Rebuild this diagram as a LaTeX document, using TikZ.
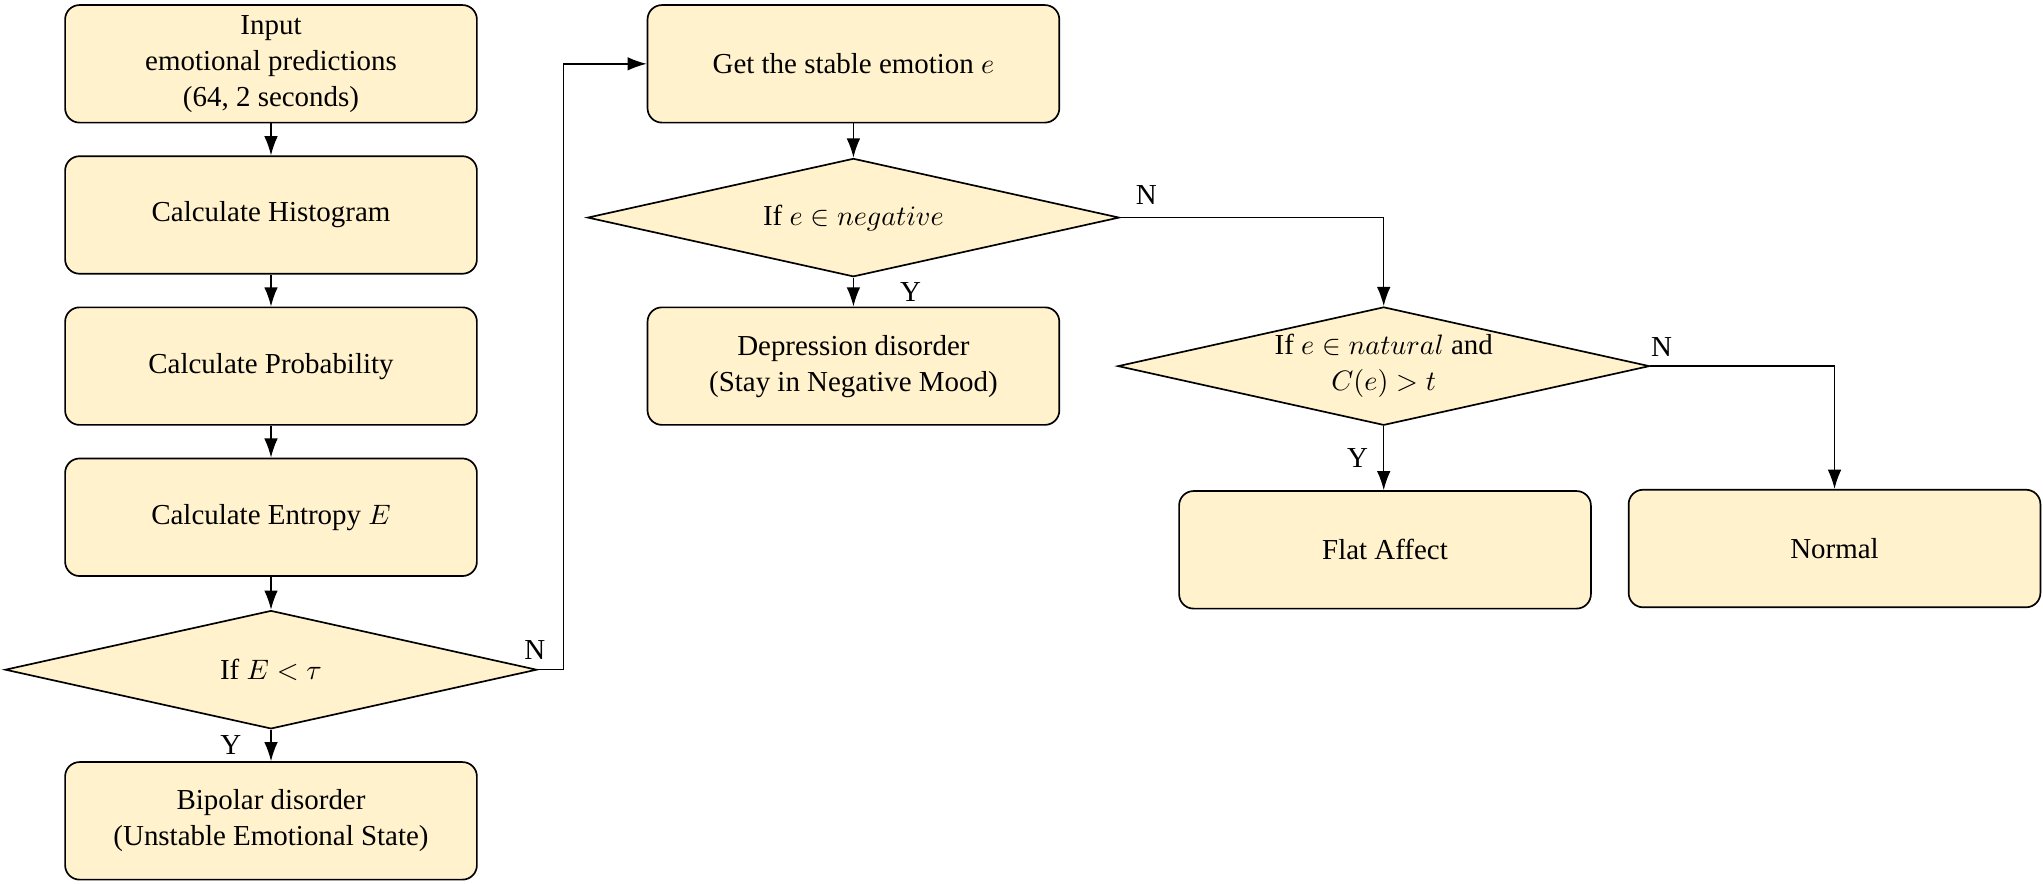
\documentclass[tikz,border=0pt]{standalone}
\usepackage{fontspec}
\setmainfont{Liberation Serif}
\usepackage{amsmath}
\usepackage{tikz}
\usetikzlibrary{shapes,arrows,arrows.meta,positioning,fit,calc}
\definecolor{boxfill}{HTML}{FFF2CC}
\tikzset{
    box/.style={draw, rounded corners=0.18cm, fill=boxfill, line width=0.6pt,
        minimum width=5.15cm, minimum height=1.47cm, align=center},
    decision/.style={draw, diamond, fill=boxfill, line width=0.6pt, aspect=4.47,
        inner sep=0pt, minimum width=6.65cm, minimum height=1.48cm, align=center},
    line/.style={draw, -{Latex[length=2.4mm,width=1.7mm]}, line width=0.5pt}
}

\begin{document}
\begin{tikzpicture}[x=0.0163cm, y=-0.0163cm, font=\fontsize{10.3pt}{12.8pt}\selectfont]
            \useasboundingbox (0,0) rectangle (1568,678);
            % left column
            \node[box] (input) at (208,49) {Input\\emotional predictions\\(64, 2 seconds)};
            \node[box] (hist) at (208,165) {Calculate Histogram};
            \node[box] (prob) at (208,281) {Calculate Probability};
            \node[box] (entropy) at (208,397) {Calculate Entropy $E$};
            \node[decision] (cond1) at (208,514) {If $E < \tau$};
            \node[box] (bipolar) at (208,630) {Bipolar disorder\\(Unstable Emotional State)};
            % middle column
            \node[box] (stable) at (655,49) {Get the stable emotion $e$};
            \node[decision] (cond2) at (655,167) {If $e \in negative$};
            \node[box] (depress) at (655,281) {Depression disorder\\(Stay in Negative Mood)};
            % right part
            \node[decision] (cond3) at (1062,281) {If $e \in natural$ and\\$C(e) > t$};
            \node[box] (flat) at (1063,422) {Flat Affect};
            \node[box] (normal) at (1408,421) {Normal};

            \draw[line] (input) -- (hist);
            \draw[line] (hist) -- (prob);
            \draw[line] (prob) -- (entropy);
            \draw[line] (entropy) -- (cond1);
            \draw[line] (cond1) -- node[left=7pt] {Y} (bipolar);
            \draw[line] (cond1.east) node[above, xshift=-1pt] {N} -- ++(20,0) |- (stable);
            \draw[line] (stable) -- (cond2);
            \draw[line] (cond2) -- node[right=13pt] {Y} (depress);
            \draw[line] (cond2.east) node[above right, xshift=2pt, yshift=1pt] {N} -| (cond3.north);
            \draw[line] (cond3.south) -- node[left=2pt] {Y} (flat.north -| cond3.south);
            \draw[line] (cond3.east) node[above, xshift=4pt] {N} -| (normal.north);
        \end{tikzpicture}
\end{document}
